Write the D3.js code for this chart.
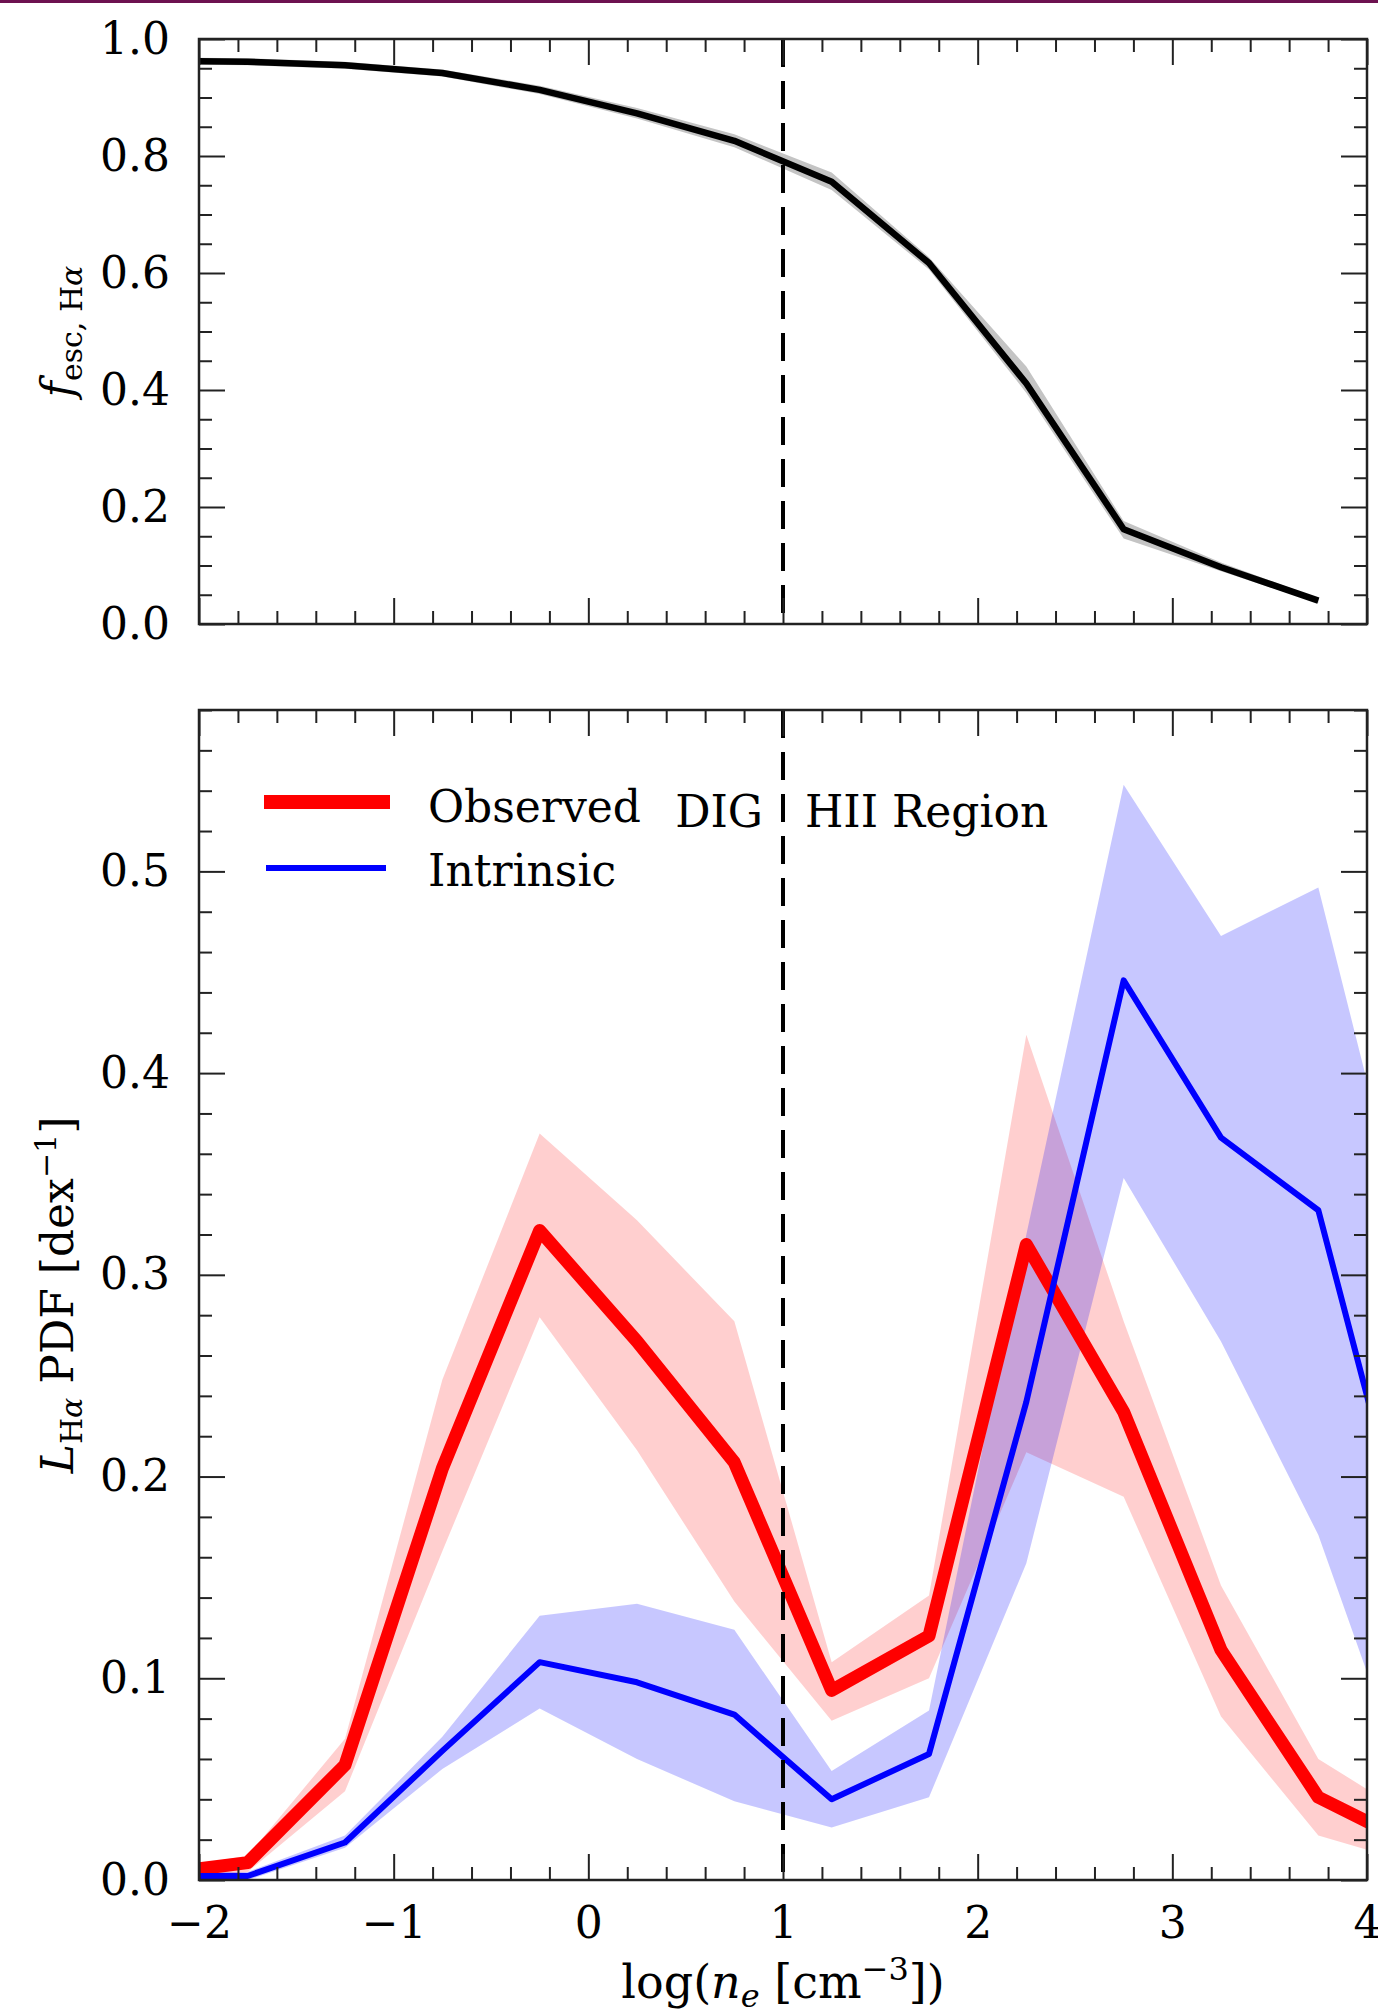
<!DOCTYPE html>
<html>
<head>
<meta charset="utf-8">
<script src="https://cdn.jsdelivr.net/npm/d3@7"></script>
<style>
body { margin: 0; background: #fff; }
text { font-family: "DejaVu Serif", serif; fill: #000; }
</style>
</head>
<body>
<script>
// bin centres, log(n_e [cm^-3])
var logNe = [-2.25, -1.75, -1.25, -0.75, -0.25, 0.25, 0.75, 1.25, 1.75, 2.25, 2.75, 3.25, 3.75, 4.25];

// top panel: escape fraction (13 bins, up to 3.75)
var fesc   = [0.963, 0.961, 0.955, 0.942, 0.913, 0.873, 0.826, 0.756, 0.617, 0.411, 0.162, 0.097, 0.040];
var fescLo = [0.957, 0.955, 0.949, 0.936, 0.906, 0.864, 0.815, 0.742, 0.606, 0.395, 0.146, 0.090, 0.036];
var fescHi = [0.969, 0.967, 0.961, 0.948, 0.920, 0.882, 0.837, 0.772, 0.627, 0.440, 0.176, 0.105, 0.044];

// bottom panel: L_Halpha PDF
var observed   = [0.0024, 0.0086, 0.057, 0.204, 0.322, 0.267, 0.207, 0.094, 0.121, 0.315, 0.232, 0.114, 0.041, 0.017];
var observedLo = [0.000, 0.004, 0.044, 0.163, 0.279, 0.213, 0.138, 0.079, 0.100, 0.212, 0.190, 0.081, 0.022, 0.008];
var observedHi = [0.004, 0.012, 0.070, 0.248, 0.370, 0.327, 0.277, 0.108, 0.141, 0.419, 0.277, 0.146, 0.060, 0.030];

var intrinsic   = [0.002, 0.002, 0.0186, 0.064, 0.108, 0.098, 0.082, 0.040, 0.0625, 0.237, 0.446, 0.368, 0.332, 0.148];
var intrinsicLo = [0.000, 0.000, 0.016, 0.055, 0.085, 0.060, 0.039, 0.026, 0.041, 0.157, 0.348, 0.267, 0.171, 0.035];
var intrinsicHi = [0.004, 0.004, 0.022, 0.071, 0.131, 0.137, 0.124, 0.054, 0.084, 0.320, 0.543, 0.468, 0.492, 0.300];

var xTicks = [-2, -1, 0, 1, 2, 3, 4];
var fescTicks = [0, 0.2, 0.4, 0.6, 0.8, 1.0];
var pdfTicks = [0, 0.1, 0.2, 0.3, 0.4, 0.5];
var boundary = 1; // DIG / HII region split

var W = 1378, H = 2016;
var left = 199, right = 1367;
var top1 = 39, bot1 = 624, top2 = 710, bot2 = 1880;
var fontSize = 44;

var svg = d3.select("body").append("svg")
    .attr("width", W)
    .attr("height", H);

// thin strip at the very top of the page
svg.append("rect").attr("x", 0).attr("y", 0).attr("width", W).attr("height", 3).attr("fill", "#6d1250");

var x = d3.scaleLinear().domain([-2, 4]).range([left, right]);
var y1 = d3.scaleLinear().domain([0, 1]).range([bot1, top1]);
var y2 = d3.scaleLinear().domain([0, 0.58]).range([bot2, top2]);

function rows(v, lo, hi) {
    return v.map(function(d, i) { return {x: logNe[i], v: d, lo: lo[i], hi: hi[i]}; });
}

function minorOf(lo, hi, step, majors) {
    var out = [];
    for (var t = lo; t <= hi + 1e-9; t += step) {
        var r = Math.round(t * 1000) / 1000;
        if (!majors.some(function(m) { return Math.abs(m - r) < 1e-6; })) out.push(r);
    }
    return out;
}

var defs = svg.append("defs");
function clip(id, yTop, yBot) {
    defs.append("clipPath").attr("id", id)
        .append("rect").attr("x", left).attr("y", yTop)
        .attr("width", right - left).attr("height", yBot - yTop);
}
clip("clip1", top1, bot1);
clip("clip2", top2, bot2);

function axes(y, yTop, yBot, majorY, minorY, xLabels) {
    var g = svg.append("g");
    var xMinor = minorOf(-2, 4, 0.2, xTicks);

    var set = [
        [d3.axisLeft(y).tickValues(majorY).tickSize(-26).tickPadding(29).tickFormat(d3.format(".1f")), left, 0],
        [d3.axisLeft(y).tickValues(minorY).tickSize(-13).tickFormat(""), left, 0],
        [d3.axisRight(y).tickValues(majorY).tickSize(-26).tickFormat(""), right, 0],
        [d3.axisRight(y).tickValues(minorY).tickSize(-13).tickFormat(""), right, 0],
        [d3.axisTop(x).tickValues(xTicks).tickSize(-26).tickFormat(""), 0, yTop],
        [d3.axisTop(x).tickValues(xMinor).tickSize(-13).tickFormat(""), 0, yTop],
        [d3.axisBottom(x).tickValues(xTicks).tickSize(-26).tickPadding(27).tickFormat(xLabels ? d3.format("d") : ""), 0, yBot],
        [d3.axisBottom(x).tickValues(xMinor).tickSize(-13).tickFormat(""), 0, yBot]
    ];
    set.forEach(function(a) {
        var ax = g.append("g")
            .attr("transform", "translate(" + a[1] + "," + a[2] + ")")
            .call(a[0]);
        ax.select(".domain").remove();
        ax.selectAll("line").attr("stroke", "#222").attr("stroke-width", 2);
        ax.selectAll("text")
            .attr("font-family", "DejaVu Serif")
            .attr("font-size", fontSize)
            .attr("fill", "#000");
    });

    g.append("rect")
        .attr("x", left).attr("y", yTop)
        .attr("width", right - left).attr("height", yBot - yTop)
        .attr("fill", "none").attr("stroke", "#222").attr("stroke-width", 2.5);
}

function dashed(yTop, yBot) {
    svg.append("line")
        .attr("x1", x(boundary)).attr("x2", x(boundary))
        .attr("y1", yTop).attr("y2", yBot)
        .attr("stroke", "#000").attr("stroke-width", 4)
        .attr("stroke-dasharray", "28,14");
}

// ---------- top panel ----------
var topData = rows(fesc, fescLo, fescHi);
var p1 = svg.append("g").attr("clip-path", "url(#clip1)");

p1.append("path").datum(topData)
    .attr("fill", "#c4c4c4")
    .attr("d", d3.area().x(function(d) { return x(d.x); })
        .y0(function(d) { return y1(d.lo); }).y1(function(d) { return y1(d.hi); }));

p1.append("path").datum(topData)
    .attr("fill", "none").attr("stroke", "#000").attr("stroke-width", 6.5)
    .attr("stroke-linejoin", "round")
    .attr("d", d3.line().x(function(d) { return x(d.x); }).y(function(d) { return y1(d.v); }));

dashed(top1, bot1);
axes(y1, top1, bot1, fescTicks, minorOf(0, 1, 0.05, fescTicks), false);

// ---------- bottom panel ----------
var obsData = rows(observed, observedLo, observedHi);
var intData = rows(intrinsic, intrinsicLo, intrinsicHi);
var p2 = svg.append("g").attr("clip-path", "url(#clip2)");

var band = d3.area().x(function(d) { return x(d.x); })
    .y0(function(d) { return y2(d.lo); }).y1(function(d) { return y2(d.hi); });
var line2 = d3.line().x(function(d) { return x(d.x); }).y(function(d) { return y2(d.v); });

p2.append("path").datum(obsData).attr("fill", "#ff0000").attr("fill-opacity", 0.19).attr("d", band);
p2.append("path").datum(intData).attr("fill", "#0000ff").attr("fill-opacity", 0.22).attr("d", band);

p2.append("path").datum(obsData)
    .attr("fill", "none").attr("stroke", "#ff0000").attr("stroke-width", 13)
    .attr("stroke-linejoin", "round").attr("d", line2);
p2.append("path").datum(intData)
    .attr("fill", "none").attr("stroke", "#0000ff").attr("stroke-width", 6)
    .attr("stroke-linejoin", "round").attr("d", line2);

dashed(top2, bot2);
axes(y2, top2, bot2, pdfTicks, minorOf(0, 0.58, 0.02, pdfTicks), true);

// legend
var legend = svg.append("g");
legend.append("line").attr("x1", 264).attr("x2", 390).attr("y1", 802).attr("y2", 802)
    .attr("stroke", "#ff0000").attr("stroke-width", 14);
legend.append("line").attr("x1", 266).attr("x2", 386).attr("y1", 868).attr("y2", 868)
    .attr("stroke", "#0000ff").attr("stroke-width", 6);
legend.append("text").attr("x", 428).attr("y", 822).attr("font-size", fontSize).text("Observed");
legend.append("text").attr("x", 428).attr("y", 886).attr("font-size", fontSize).text("Intrinsic");

svg.append("text").attr("x", x(boundary) - 20).attr("y", 827)
    .attr("text-anchor", "end").attr("font-size", fontSize).text("DIG");
svg.append("text").attr("x", x(boundary) + 22).attr("y", 827)
    .attr("font-size", fontSize).text("HII Region");

// axis titles
function subText(x0, y0, rot, size, parts) {
    var txt = svg.append("text")
        .attr("transform", "translate(" + x0 + "," + y0 + ")" + (rot ? " rotate(-90)" : ""))
        .attr("text-anchor", "middle")
        .attr("font-size", size);
    parts.forEach(function(p) {
        var ts = txt.append("tspan").text(p.t);
        if (p.it) ts.attr("font-style", "italic");
        if (p.size) ts.attr("font-size", p.size);
        if (p.dy) ts.attr("dy", p.dy);
    });
    return txt;
}

subText((left + right) / 2, 1998, false, 46, [
    {t: "log("},
    {t: "n", it: true},
    {t: "e", it: true, size: 32, dy: 9},
    {t: " [cm", dy: -9},
    {t: "\u22123", size: 32, dy: -18},
    {t: "])", dy: 18}
]);

subText(73, (top1 + bot1) / 2, true, fontSize, [
    {t: "f", it: true},
    {t: "esc, H", size: 30, dy: 9},
    {t: "\u03b1", it: true, size: 30},
    {t: " ", dy: -9}
]);

subText(73, (top2 + bot2) / 2, true, fontSize, [
    {t: "L", it: true},
    {t: "H", size: 30, dy: 9},
    {t: "\u03b1", it: true, size: 30},
    {t: " PDF [dex", dy: -9},
    {t: "\u22121", size: 30, dy: -17},
    {t: "]", dy: 17}
]);
</script>
</body>
</html>
